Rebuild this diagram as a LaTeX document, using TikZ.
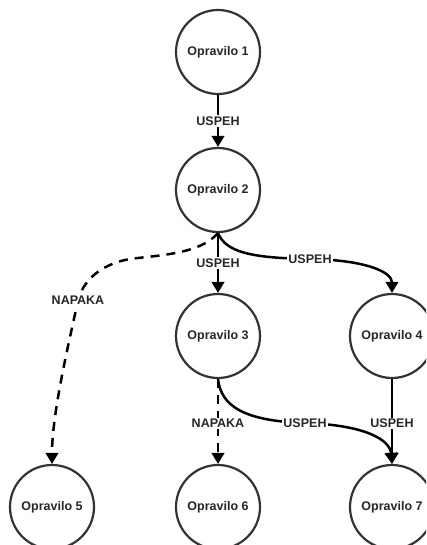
\documentclass[tikz,border=0pt]{standalone}
\usepackage{fontspec}
\setmainfont{Liberation Sans}
\usetikzlibrary{arrows.meta}
\begin{document}
\begin{tikzpicture}[x=1pt,y=-1pt,
  task/.style={circle,draw=black!80,line width=2.2pt,minimum size=84pt,inner sep=0pt,
    font=\fontsize{12.5}{14}\selectfont\bfseries,text=black!85},
  lbl/.style={fill=white,inner sep=1.2pt,font=\fontsize{12.5}{14}\selectfont\bfseries,text=black!85},
  edge/.style={line width=2.5pt,-{Triangle[width=12.5pt,length=11pt]}},
  dedge/.style={edge,dash pattern=on 9pt off 7pt}]
\useasboundingbox (0,0) rectangle (426,545);
\clip (0,0) rectangle (426,545);
\node[task] (n1) at (218,52) {Opravilo 1};
\node[task] (n2) at (218,190) {Opravilo 2};
\node[task] (n3) at (218,336) {Opravilo 3};
\node[task] (n4) at (392,336) {Opravilo 4};
\node[task] (n5) at (52,507) {Opravilo 5};
\node[task] (n6) at (218,507) {Opravilo 6};
\node[task] (n7) at (392,507) {Opravilo 7};
% edges
\draw[edge] (n1) -- node[lbl] (l12) {USPEH} (n2);
\draw[edge] (n2) -- node[lbl,pos=0.5] (l23) {USPEH} (n3);
\draw[edge] (n2.south) .. controls (226,252) and (250,258) .. (310,259) node[lbl] (l24) {USPEH}
  .. controls (366,260) and (392,272) .. (n4.north);
\draw[dedge] (n2.south) .. controls (200,254) and (160,255) .. (130,259)
  .. controls (96,265) and (82,285) .. (78,300) node[lbl] (l25) {NAPAKA}
  .. controls (72,330) and (52,410) .. (n5.north);
\draw[edge] (n3.south) .. controls (221,405) and (242,421) .. (305,423) node[lbl] (l37) {USPEH}
  .. controls (366,425) and (390,440) .. (n7.north);
\draw[dedge] (n3) -- node[lbl,pos=0.52] (l36) {NAPAKA} (n6);
\draw[edge] (n4) -- node[lbl,pos=0.52] (l47) {USPEH} (n7);
\end{tikzpicture}
\end{document}
